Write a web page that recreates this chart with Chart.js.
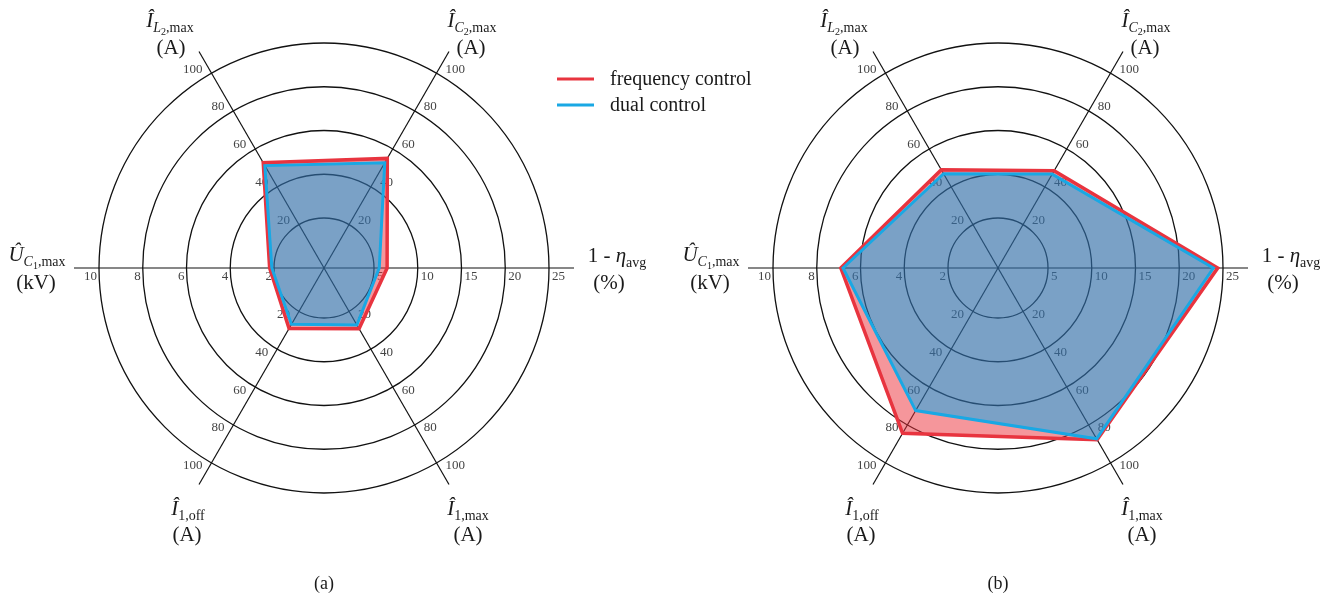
<!DOCTYPE html>
<html>
<head>
<meta charset="utf-8">
<script src="https://cdn.jsdelivr.net/npm/chart.js@4.4.1/dist/chart.umd.min.js"></script>
<style>
  html, body { margin: 0; padding: 0; background: #fff; width: 1329px; height: 601px; overflow: hidden; }
  .box { position: absolute; top: 0; height: 601px; }
  #boxA { left: 0; width: 800px; }
  #boxB { left: 660px; width: 669px; }
</style>
</head>
<body>
<div class="box" id="boxA"><canvas id="chartA"></canvas></div>
<div class="box" id="boxB"><canvas id="chartB"></canvas></div>
<script>
// Spokes, clockwise from the upper right: I_C2,max, 1-eta_avg, I_1,max, I_1,off, U_C1,max, I_L2,max
const axisKeys = ['iC2max', 'eta', 'i1max', 'i1off', 'uC1max', 'iL2max'];
const axisMax = [100, 25, 100, 100, 10, 100];

// Tick labels written along each spoke
const currentTicks = ['20', '40', '60', '80', '100'];
const etaTicks = ['5', '10', '15', '20', '25'];
const voltageTicks = ['2', '4', '6', '8', '10'];
const axisTicks = [currentTicks, etaTicks, currentTicks, currentTicks, voltageTicks, currentTicks];
const ringLevels = [20, 40, 60, 80, 100];

// (a) values in A, %, A, A, kV, A
const freqA = [55, 6.5, 29.2, 29.1, 2.2, 52.7];
const dualA = [52.7, 5.6, 27.2, 26.9, 2.1, 51.2];
// (b)
const freqB = [48.5, 24.4, 87.8, 84.4, 6.9, 49];
const dualB = [46.7, 23.9, 87.3, 72.4, 6.8, 46.9];

const legendNames = ['frequency control', 'dual control'];
const RED = '#e8343f';
const BLUE = '#19a8e4';
const SERIF = "'Liberation Serif', 'Times New Roman', serif";

// each spoke carries its own unit; put every spoke on a common 0..100 % scale
const toPct = (vals) => vals.map((v, i) => v / axisMax[i] * 100);

function drawRich(ctx, parts, cx, y) {
  let total = 0;
  parts.forEach(p => { ctx.font = p.f; p.w = ctx.measureText(p.t).width; total += p.w; });
  let x = cx - total / 2;
  ctx.textAlign = 'left';
  ctx.textBaseline = 'alphabetic';
  parts.forEach(p => { ctx.font = p.f; ctx.fillText(p.t, x, y + (p.dy || 0)); x += p.w; });
}

const fBig = 'italic 21px ' + SERIF;
const fRom = '21px ' + SERIF;
const fSubI = 'italic 14px ' + SERIF;
const fSub = '14px ' + SERIF;
const fSub2 = '10px ' + SERIF;

// axis titles: parts, offset of first line, offset of unit line (relative to centre)
const axisTitles = [
  { parts: [{t:'Î', f:fBig}, {t:'C', f:fSubI, dy:5}, {t:'2', f:fSub2, dy:8}, {t:',max', f:fSub, dy:5}], pos:[148, -241], unit:'(A)', upos:[147, -214] },
  { parts: [{t:'1 - ', f:fRom}, {t:'η', f:fBig}, {t:'avg', f:fSub, dy:5}], pos:[293, -6], unit:'(%)', upos:[285, 21] },
  { parts: [{t:'Î', f:fBig}, {t:'1,max', f:fSub, dy:5}], pos:[144, 247], unit:'(A)', upos:[144, 273] },
  { parts: [{t:'Î', f:fBig}, {t:'1,off', f:fSub, dy:5}], pos:[-136, 247], unit:'(A)', upos:[-137, 273] },
  { parts: [{t:'Û', f:fBig}, {t:'C', f:fSubI, dy:5}, {t:'1', f:fSub2, dy:8}, {t:',max', f:fSub, dy:5}], pos:[-287, -7], unit:'(kV)', upos:[-288, 21] },
  { parts: [{t:'Î', f:fBig}, {t:'L', f:fSubI, dy:5}, {t:'2', f:fSub2, dy:8}, {t:',max', f:fSub, dy:5}], pos:[-154, -241], unit:'(A)', upos:[-153, -214] }
];

const spokeLabels = {
  id: 'spokeLabels',
  beforeDatasetsDraw(chart) {
    const s = chart.scales.r;
    const ctx = chart.ctx;
    ctx.save();
    ctx.font = '13px ' + SERIF;
    ctx.fillStyle = '#444';
    ctx.textBaseline = 'middle';
    axisKeys.forEach((k, i) => {
      const a = s.getIndexAngle(i) - Math.PI / 2;
      const c = Math.cos(a), sn = Math.sin(a);
      ringLevels.forEach((lv, j) => {
        const p = s.getPointPositionForValue(i, lv);
        const txt = axisTicks[i][j];
        if (Math.abs(sn) < 0.01) {
          ctx.textAlign = c > 0 ? 'left' : 'right';
          ctx.fillText(txt, p.x + (c > 0 ? 3 : -2), p.y + 9);
        } else {
          const w = ctx.measureText(txt).width;
          ctx.textAlign = 'center';
          ctx.fillText(txt, p.x + (c > 0 ? 1 : -1) * (9 + w / 2), p.y + (sn < 0 ? -4 : 3));
        }
      });
    });
    ctx.restore();
  }
};

function titlesPlugin(caption, withLegend) {
  return {
    id: 'titles',
    afterDraw(chart) {
      const s = chart.scales.r;
      const ctx = chart.ctx;
      const cx = s.xCenter, cy = s.yCenter;
      ctx.save();
      ctx.fillStyle = '#1a1a1a';
      axisTitles.forEach(t => {
        drawRich(ctx, t.parts, cx + t.pos[0], cy + t.pos[1]);
        drawRich(ctx, [{t: t.unit, f: fRom}], cx + t.upos[0], cy + t.upos[1]);
      });
      drawRich(ctx, [{t: caption, f: '18px ' + SERIF}], cx, 589);
      if (withLegend) {
        const rows = [[RED, legendNames[0], 79], [BLUE, legendNames[1], 105]];
        rows.forEach(([col, name, y]) => {
          ctx.strokeStyle = col;
          ctx.lineWidth = 3;
          ctx.beginPath();
          ctx.moveTo(557, y);
          ctx.lineTo(594, y);
          ctx.stroke();
          ctx.font = '20px ' + SERIF;
          ctx.fillStyle = '#1a1a1a';
          ctx.textAlign = 'left';
          ctx.textBaseline = 'alphabetic';
          ctx.fillText(name, 610, y + 6);
        });
      }
      ctx.restore();
    }
  };
}

function makeChart(id, freq, dual, pad, caption, withLegend) {
  return new Chart(document.getElementById(id), {
    type: 'radar',
    data: {
      labels: axisKeys,
      datasets: [
        { label: legendNames[1], data: toPct(dual), borderColor: BLUE, backgroundColor: 'rgba(50,110,168,0.65)',
          borderWidth: 3, fill: 'start', order: 0, pointRadius: 0 },
        { label: legendNames[0], data: toPct(freq), borderColor: RED, backgroundColor: 'rgba(235,45,55,0.5)',
          borderWidth: 3.5, fill: '-1', order: 1, pointRadius: 0 }
      ]
    },
    options: {
      responsive: true,
      maintainAspectRatio: false,
      animation: false,
      layout: { padding: pad },
      plugins: { legend: { display: false }, tooltip: { enabled: false } },
      elements: { line: { tension: 0, borderJoinStyle: 'miter' } },
      scales: {
        r: {
          min: -20 / 7,
          max: 780 / 7,
          startAngle: 30,
          grid: { circular: true, color: '#111', lineWidth: 1.3 },
          angleLines: { color: '#111', lineWidth: 1.2 },
          ticks: { display: false },
          pointLabels: { display: false },
          afterBuildTicks: (sc) => { sc.ticks = [-20 / 7, ...ringLevels].map(v => ({ value: v })); }
        }
      }
    },
    plugins: [spokeLabels, titlesPlugin(caption, withLegend)]
  });
}

makeChart('chartA', freqA, dualA, { left: 74, top: 18, right: 226, bottom: 83 }, '(a)', true);
makeChart('chartB', freqB, dualB, { left: 88, top: 18, right: 81, bottom: 83 }, '(b)', false);
</script>
</body>
</html>
